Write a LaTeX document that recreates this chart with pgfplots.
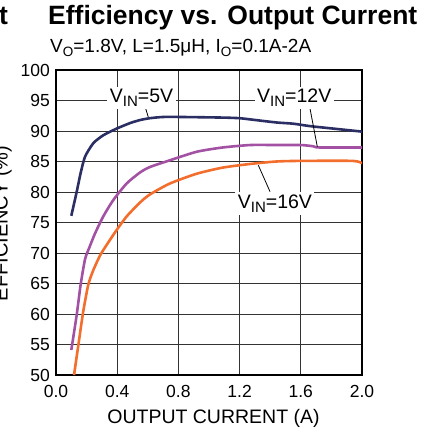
\documentclass[border=0pt]{standalone}
\usepackage{fontspec}
\setmainfont{Liberation Sans}
\usepackage{pgfplots}
\pgfplotsset{compat=1.18}
\definecolor{c5}{RGB}{43,46,99}
\definecolor{c12}{RGB}{163,82,163}
\definecolor{c16}{RGB}{243,110,45}
\newcommand{\fs}[1]{\fontsize{#1bp}{#1bp}\selectfont}
\newcommand{\VIN}{V\raisebox{-4bp}{\fs{15}IN}}
\begin{document}
\begin{tikzpicture}[x=1bp,y=1bp]
\path[use as bounding box] (0,0) rectangle (428,431);
\clip (0,0) rectangle (428,431);
\node[anchor=base west, inner sep=0, font=\bfseries\fs{26.5}] at (-1,406) {t};
\node[anchor=base west, inner sep=0, font=\bfseries\fs{26.5}] at (48,406) {Efficiency vs. Output Current};
\node[anchor=base west, inner sep=0, font=\fs{19}] at (50,378.3) {V\raisebox{-4bp}{\fs{13.5}O}=1.8V, L=1.5μH, I\raisebox{-4bp}{\fs{13.5}O}=0.1A-2A};
\begin{axis}[
  at={(56bp,56bp)}, anchor=south west,
  width=306bp, height=305bp, scale only axis,
  xmin=0, xmax=2, ymin=50, ymax=100,
  xtick={0,0.4,0.8,1.2,1.6,2.0}, xticklabels={0.0,0.4,0.8,1.2,1.6,2.0},
  ytick={50,55,60,65,70,75,80,85,90,95,100},
  yticklabels={50,55,60,65,70,75,80,85,90,95,100},
  grid=major, major grid style={line width=1bp, color=black!80},
  axis line style={line width=2bp, black},
  major tick length=0pt,
  tick label style={font=\fs{17.5}, inner sep=0pt},
  yticklabel style={anchor=east, xshift=-6bp},
  xticklabel style={anchor=north, yshift=-10bp},
  xlabel={OUTPUT CURRENT (A)},
  xlabel style={font=\fs{19.5}, at={(axis description cs:0.5147,-0.1574)}, anchor=base, inner sep=0pt},
  ylabel={EFFICIENCY (\%)},
  ylabel style={font=\fs{20}, at={(axis description cs:-0.1585,0.4967)}, anchor=base, inner sep=0pt},
]
\addplot[c5, line width=2.6bp, line join=round, smooth, tension=0.4] coordinates {
(0.1,76.1) (0.135,80.0) (0.161,83.1) (0.19,85.8) (0.244,88.0) (0.309,89.3) (0.397,90.4) (0.484,91.3) (0.55,91.8) (0.614,92.1) (0.7,92.3) (0.81,92.3) (1.09,92.2) (1.2,92.1) (1.27,91.9) (1.44,91.4) (1.55,91.2) (1.66,90.8) (1.81,90.4) (2.0,89.9)
};
\addplot[c12, line width=2.6bp, line join=round, smooth, tension=0.4] coordinates {
(0.1,54.1) (0.135,59.8) (0.161,64.8) (0.19,69.0) (0.218,70.9) (0.255,73.2) (0.309,76.0) (0.375,78.7) (0.462,81.4) (0.549,83.2) (0.614,84.1) (0.745,85.2) (0.92,86.6) (1.09,87.3) (1.27,87.7) (1.44,87.7) (1.6,87.7) (1.68,87.5) (1.72,87.3) (2.0,87.3)
};
\addplot[c16, line width=2.6bp, line join=round, smooth, tension=0.4] coordinates {
(0.118,50) (0.146,54.9) (0.178,60.4) (0.211,64.8) (0.244,67.2) (0.288,69.6) (0.32,70.9) (0.386,73.4) (0.462,76.0) (0.55,78.3) (0.614,79.6) (0.745,81.4) (0.92,83.0) (1.09,84.0) (1.27,84.6) (1.44,85.0) (1.6,85.1) (1.94,85.1) (2.0,84.7)
};
\draw[line width=0.8bp] (axis cs:0.582,94.0) -- (axis cs:0.603,92.3);
\draw[line width=0.8bp] (axis cs:1.660,93.7) -- (axis cs:1.708,87.4);
\draw[line width=0.8bp] (axis cs:1.399,80.05) -- (axis cs:1.322,84.4);
\node[anchor=base, fill=white, inner sep=2.5bp, font=\fs{19.5}] at (axis cs:0.559,94.6) {\VIN=5V};
\node[anchor=base, fill=white, inner sep=2.5bp, font=\fs{19.5}] at (axis cs:1.557,94.6) {\VIN=12V};
\node[anchor=base, fill=white, inner sep=2.5bp, font=\fs{19.5}] at (axis cs:1.431,77.3) {\VIN=16V};
\end{axis}
\end{tikzpicture}
\end{document}
